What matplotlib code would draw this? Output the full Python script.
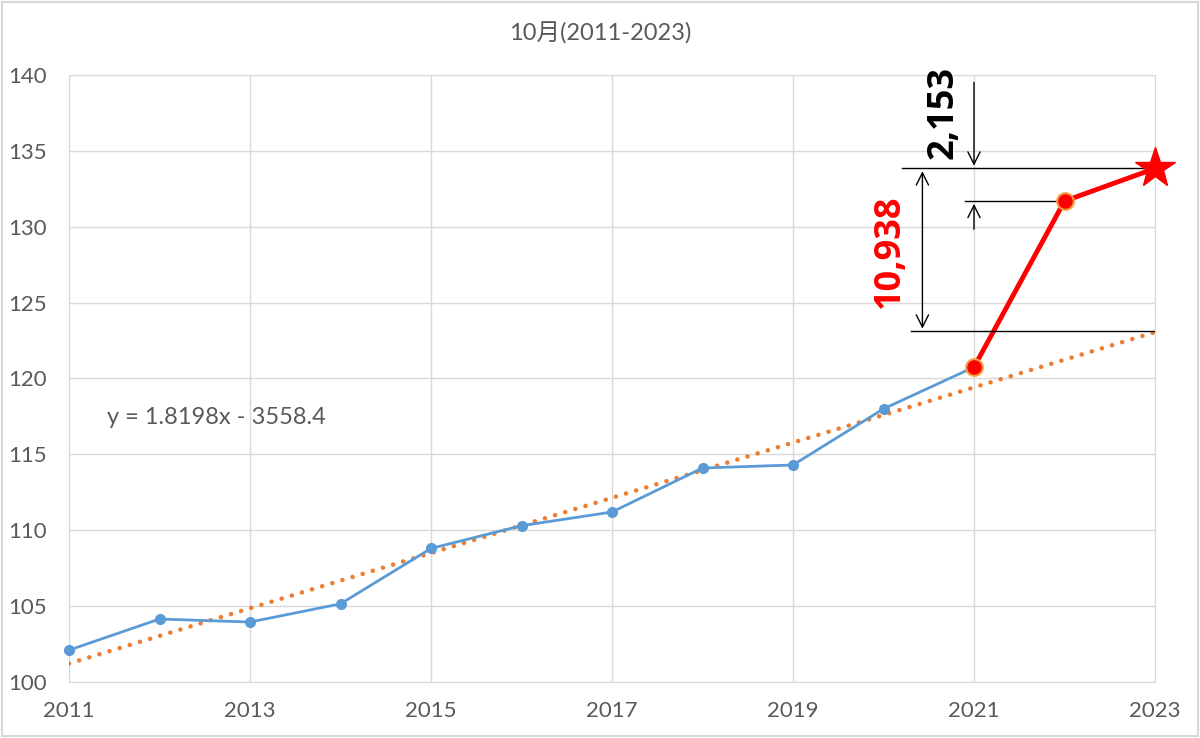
import matplotlib.pyplot as plt
import numpy as np
from matplotlib.patches import Rectangle

plt.rcParams["font.family"] = ["Lato", "Noto Sans CJK JP", "DejaVu Sans"]

years = [2011, 2012, 2013, 2014, 2015, 2016, 2017, 2018, 2019, 2020, 2021]
values = [102.1, 104.15, 103.95, 105.15, 108.8, 110.3, 111.2, 114.1, 114.3, 118.0, 120.75]
red_years = [2021, 2022, 2023]
red_values = [120.75, 131.69, 133.84]
trend_slope = 1.8198
trend_intercept = -3558.4
trend_2023 = 123.1
label_big = "10,938"
label_small = "2,153"

fig = plt.figure(figsize=(12, 7.38), dpi=100)
fig.patches.append(Rectangle((0.002, 0.003), 0.996, 0.994, transform=fig.transFigure,
                             fill=False, edgecolor="#D9D9D9", linewidth=1.5))
ax = fig.add_axes([0.0575, 0.0759, 0.905, 0.8225])

gray = "#D9D9D9"
txt = "#595959"

# trend line
tx = np.array([2011, 2023])
ax.plot(tx, trend_slope * tx + trend_intercept, color="#ED7D31", linestyle=(0, (0.01, 2.3)),
        linewidth=3.3, dash_capstyle="round", zorder=3)

ax.plot(years, values, color="#5B9BD5", linewidth=2, marker="o", markersize=7, zorder=4,
        clip_on=False)

ax.plot(red_years, red_values, color="#FF0000", linewidth=3.5, zorder=5)
ax.plot(red_years[:2], red_values[:2], linestyle="none", marker="o", markersize=12,
        markerfacecolor="#FF0000", markeredgecolor="#F4A040", markeredgewidth=1.5, zorder=6)
ax.plot(red_years[2], red_values[2], linestyle="none", marker="*", markersize=30,
        color="#FF0000", zorder=6, clip_on=False)

# annotation lines
ax.plot([2020.2, 2023], [red_values[2], red_values[2]], color="black", linewidth=1, zorder=5, clip_on=False)
ax.plot([2020.9, 2022], [red_values[1], red_values[1]], color="black", linewidth=1, zorder=5)
ax.plot([2020.3, 2023], [trend_2023, trend_2023], color="black", linewidth=1, zorder=5)
ax.annotate("", xy=(2020.43, red_values[2]), xytext=(2020.43, trend_2023),
            arrowprops=dict(arrowstyle="<->", color="black", lw=1, mutation_scale=22))
ax.annotate("", xy=(2021, red_values[2]), xytext=(2021, 139.7),
            arrowprops=dict(arrowstyle="->", color="black", lw=1, mutation_scale=22))
ax.annotate("", xy=(2021, red_values[1]), xytext=(2021, 129.65),
            arrowprops=dict(arrowstyle="->", color="black", lw=1, mutation_scale=22))
ax.text(2020.07, 128.4, label_big, rotation=90, color="#FF0000", fontsize=26,
        fontweight="bold", family="Open Sans", ha="center", va="center")
ax.text(2020.66, 137.5, label_small, rotation=90, color="black", fontsize=26,
        fontweight="bold", family="Open Sans", ha="center", va="center")

ax.text(2011.42, 117.45, "y = 1.8198x - 3558.4", fontsize=17, color=txt, va="center")

ax.set_xlim(2011, 2023)
ax.set_ylim(100, 140)
ax.set_xticks(range(2011, 2024, 2))
ax.set_yticks(range(100, 141, 5))
ax.grid(True, color=gray, linewidth=1)
ax.set_axisbelow(True)
for s in ax.spines.values():
    s.set_color(gray)
ax.tick_params(length=0, labelsize=16, colors=txt, pad=14)
ax.tick_params(axis="y", pad=16)

fig.text(0.5, 0.955, "10月(2011-2023)", ha="center", va="center", fontsize=17, color=txt)

fig.savefig("out.png", dpi=100)
